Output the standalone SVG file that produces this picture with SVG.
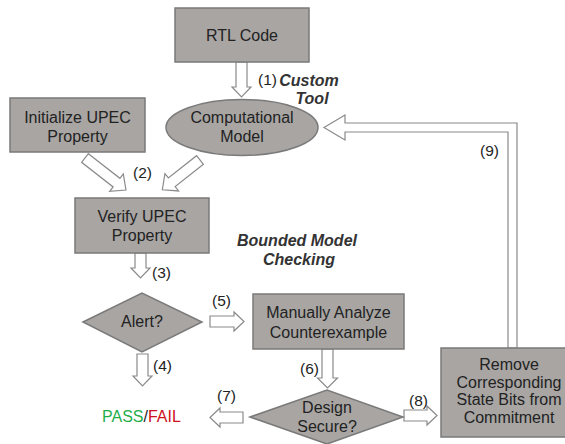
<svg xmlns="http://www.w3.org/2000/svg" width="565" height="444" viewBox="0 0 565 444">
<style>
.box{fill:#a8a5a3;stroke:#7a7a7a;stroke-width:1.5}
.arr{fill:#fff;stroke:#8a8a8a;stroke-width:1.2}
.t{font-family:"Liberation Sans",Arial,sans-serif;font-size:16px;fill:#222;text-anchor:middle}
.lb{font-family:"Liberation Sans",Arial,sans-serif;font-size:15.5px;fill:#222}
.bi{font-family:"Liberation Sans",Arial,sans-serif;font-size:16px;font-weight:bold;font-style:italic;fill:#333;text-anchor:middle}
</style>
<rect width="565" height="444" fill="#fff"/>
<g id="connectors">
<polygon class="arr" points="236,62 247,62 247,87 251,87 241.5,97 232,87 236,87"/>
<polygon class="arr" transform="translate(85,158) rotate(38)" points="0,-5.5 40,-5.5 40,-11 52,0 40,11 40,5.5 0,5.5"/>
<polygon class="arr" transform="translate(200,160) rotate(141.7)" points="0,-5.5 36,-5.5 36,-11 48,0 36,11 36,5.5 0,5.5"/>
<polygon class="arr" points="135,253 146,253 146,268 150,268 140.5,278 131,268 135,268"/>
<polygon class="arr" points="137,354 148,354 148,376 152,376 142.5,386 133,376 137,376"/>
<polygon class="arr" points="210,316 234,316 234,312 244,321.5 234,331 234,327 210,327"/>
<polygon class="arr" points="322,349 333,349 333,378 337.5,378 327.5,388 317.5,378 322,378"/>
<polygon class="arr" points="243,412 220,412 220,408 210,417.5 220,427 220,423 243,423"/>
<polygon class="arr" points="404,410 427,410 427,406 437,415.5 427,425 427,421 404,421"/>
<polygon class="arr" points="508,348 508,132 345,132 345,140 324,127.5 345,115 345,123 517,123 517,348"/>
<text class="lb" x="258" y="85">(1)</text>
<text class="lb" x="133" y="178">(2)</text>
<text class="lb" x="152" y="278">(3)</text>
<text class="lb" x="153" y="371">(4)</text>
<text class="lb" x="212" y="306">(5)</text>
<text class="lb" x="300" y="374">(6)</text>
<text class="lb" x="217" y="401">(7)</text>
<text class="lb" x="409" y="406">(8)</text>
<text class="lb" x="480" y="156">(9)</text>
</g>
<g id="rtl"><rect class="box" x="175" y="8" width="134" height="54"/><text class="t" x="242" y="41">RTL Code</text></g>
<g id="model"><ellipse class="box" cx="242" cy="127.5" rx="76" ry="28"/><text class="t" x="242" y="123">Computational</text><text class="t" x="242" y="142">Model</text></g>
<g id="tool-label"><text class="bi" x="309" y="86">Custom</text><text class="bi" x="312" y="104">Tool</text></g>
<g id="init"><rect class="box" x="10" y="98" width="135" height="54"/><text class="t" x="77.5" y="123">Initialize UPEC</text><text class="t" x="77.5" y="142">Property</text></g>
<g id="verify"><rect class="box" x="75" y="198" width="134" height="55"/><text class="t" x="142" y="222">Verify UPEC</text><text class="t" x="142" y="241">Property</text></g>
<g id="bmc-label"><text class="bi" x="297" y="246">Bounded Model</text><text class="bi" x="299" y="265">Checking</text></g>
<g id="alert"><polygon class="box" points="83,322 142,293 202,322 142,352"/><text class="t" x="142" y="327">Alert?</text></g>
<g id="analyze"><rect class="box" x="253" y="294" width="151" height="55"/><text class="t" x="328.5" y="318">Manually Analyze</text><text class="t" x="328.5" y="338">Counterexample</text></g>
<g id="secure"><polygon class="box" points="250,417 327,390 403,417 327,444"/><text class="t" x="327" y="413">Design</text><text class="t" x="327" y="432">Secure?</text></g>
<g id="result"><text class="lb" x="102" y="422" style="font-size:16px"><tspan fill="#1fae4b">PASS</tspan><tspan fill="#222">/</tspan><tspan fill="#d0111b">FAIL</tspan></text></g>
<g id="remove"><rect class="box" x="441" y="348" width="132" height="89"/><text class="t" x="509" y="370">Remove</text><text class="t" x="509" y="388">Corresponding</text><text class="t" x="509" y="405">State Bits from</text><text class="t" x="509" y="423">Commitment</text></g>
</svg>
